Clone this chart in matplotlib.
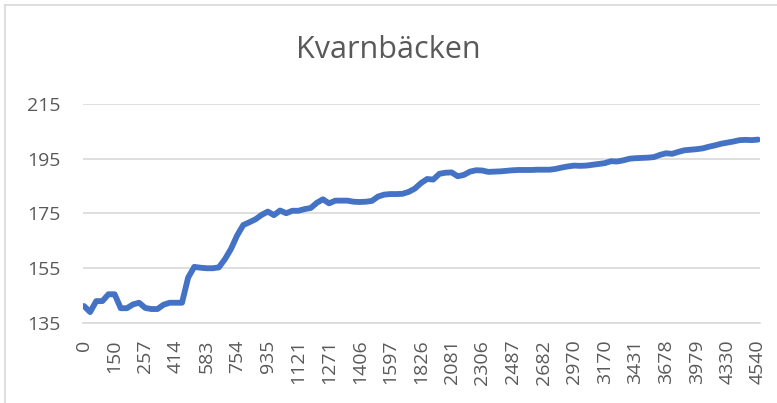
import matplotlib.pyplot as plt
import numpy as np
from matplotlib.lines import Line2D

# dados
tick_labels = ['0', '150', '257', '414', '583', '754', '935', '1121', '1271',
               '1406', '1597', '1826', '2081', '2306', '2487', '2682', '2970',
               '3170', '3431', '3678', '3979', '4330', '4540']
LABEL_STEP = 5

values = [
    141.2, 139.0, 143.0, 143.0, 145.5, 145.5, 140.4, 140.4, 141.8, 142.4,
    140.5, 140.1, 140.1, 141.7, 142.4, 142.4, 142.4, 151.6, 155.5, 155.2,
    155.0, 155.0, 155.3, 158.3, 162.1, 167.0, 170.8, 171.8, 172.9, 174.5,
    175.7, 174.4, 176.1, 175.1, 176.0, 176.0, 176.6, 177.0, 178.9, 180.2,
    178.7, 179.7, 179.7, 179.7, 179.3, 179.2, 179.3, 179.6, 181.2, 181.9,
    182.1, 182.1, 182.2, 182.9, 184.1, 186.1, 187.6, 187.4, 189.5, 189.9,
    190.0, 188.6, 189.1, 190.3, 190.8, 190.7, 190.2, 190.3, 190.4, 190.6,
    190.8, 190.9, 190.9, 190.9, 191.0, 191.0, 191.0, 191.3, 191.8, 192.2,
    192.5, 192.4, 192.5, 192.8, 193.1, 193.4, 194.1, 194.0, 194.4, 195.0,
    195.2, 195.3, 195.4, 195.6, 196.4, 197.0, 196.8, 197.5, 198.1, 198.3,
    198.5, 198.8, 199.4, 199.9, 200.5, 200.9, 201.3, 201.8, 201.9, 201.8,
    202.0,
]
title = 'Kvarnbäcken'
yticks = [135, 155, 175, 195, 215]

# configuracoes
TXT = '#595959'
GRID = '#d9d9d9'
plt.rcParams['font.family'] = ['Open Sans', 'DejaVu Sans']

fig = plt.figure(figsize=(7.77, 4.03), dpi=100)
ax = fig.add_axes([83 / 777, 1 - 323 / 403, (760 - 83) / 777, (323 - 104) / 403])

x = np.arange(len(values))
ax.plot(x, values, color='#4472C4', lw=4.2, solid_capstyle='round',
        solid_joinstyle='round', zorder=3)

ax.set_xlim(-0.16, len(values) - 1 + 0.33)
ax.set_ylim(135, 215)
ax.set_yticks(yticks)
ax.set_xticks(np.arange(len(tick_labels)) * LABEL_STEP)
ax.set_xticklabels(tick_labels, rotation=90, va='top', ha='center')
ax.tick_params(axis='y', length=0, pad=16, labelsize=14, labelcolor=TXT)
ax.tick_params(axis='x', length=0, pad=12, labelsize=14, labelcolor=TXT)

ax.grid(axis='y', color=GRID, lw=1.2)
ax.set_axisbelow(True)
for s in ['top', 'right', 'left']:
    ax.spines[s].set_visible(False)
ax.spines['bottom'].set_color(GRID)
ax.spines['bottom'].set_linewidth(1.2)

fig.text(0.5, 1 - 50 / 403, title, ha='center', va='center', fontsize=22,
         color=TXT)

# borda do grafico
fig.add_artist(Line2D([5 / 777, 5 / 777], [0, 1 - 5 / 403], color=GRID,
                      lw=1.2, transform=fig.transFigure))
fig.add_artist(Line2D([5 / 777, 1], [1 - 5 / 403, 1 - 5 / 403], color=GRID,
                      lw=1.2, transform=fig.transFigure))

fig.savefig('out.png', dpi=100)
